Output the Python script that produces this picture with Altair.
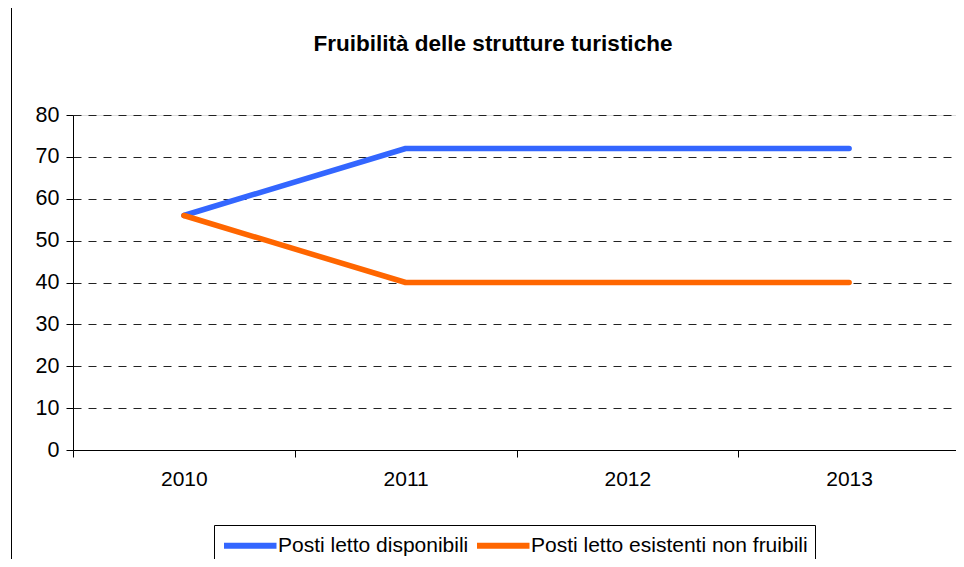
import altair as alt
import pandas as pd

anni = ["2010", "2011", "2012", "2013"]
serie = ["Posti letto disponibili", "Posti letto esistenti non fruibili"]
disponibili = [56, 72, 72, 72]
non_fruibili = [56, 40, 40, 40]
colori = ["#3366FF", "#FF6600"]
y_ticks = [0, 10, 20, 30, 40, 50, 60, 70, 80]
titolo = "Fruibilità delle strutture turistiche"

rows = []
for a, v in zip(anni, disponibili):
    rows.append({"anno": a, "serie": serie[0], "valore": v})
for a, v in zip(anni, non_fruibili):
    rows.append({"anno": a, "serie": serie[1], "valore": v})
df = pd.DataFrame(rows)

FONT = "Liberation Sans"

lines = alt.Chart(df).mark_line(strokeWidth=5.5, strokeCap="round", strokeJoin="round").encode(
    x=alt.X(
        "anno:O",
        title=None,
        bandPosition=0.5,
        scale=alt.Scale(type="band", paddingInner=0, paddingOuter=0, range=[0, 887]),
        axis=alt.Axis(
            labelAngle=0, tickBand="extent", grid=False,
            labelFontSize=21, labelFont=FONT, labelColor="#000000",
            tickSize=7, tickColor="#000000", domainColor="#000000",
            labelPadding=11,
        ),
    ),
    y=alt.Y(
        "valore:Q",
        title=None,
        scale=alt.Scale(domain=[0, 80], nice=False),
        axis=alt.Axis(
            values=y_ticks, grid=True, gridDash=[8, 7], gridColor="#222222",
            labelFontSize=21.5, labelFont=FONT, labelColor="#000000",
            tickSize=7, tickColor="#000000", domainColor="#000000",
            labelPadding=7,
        ),
    ),
    color=alt.Color(
        "serie:N",
        scale=alt.Scale(domain=serie, range=colori),
        legend=alt.Legend(
            title=None, orient="none", legendX=141, legendY=410,
            direction="horizontal", symbolType="M-1,0H4", symbolStrokeWidth=6,
            symbolSize=441, labelFontSize=21, labelFont=FONT, labelColor="#000000",
            labelOffset=30, columnPadding=-4, padding=7, strokeColor="#000000",
            labelLimit=500,
        ),
    ),
)

frame = alt.Chart(pd.DataFrame({"k": [0]})).mark_rule(color="#000000", strokeWidth=1).encode(
    x=alt.value(-61.5), y=alt.value(-200), y2=alt.value(700)
)

title_text = alt.Chart(pd.DataFrame({"t": [titolo]})).mark_text(
    fontSize=22.5, fontWeight="bold", font=FONT, color="#000000",
    align="center", baseline="alphabetic",
).encode(text="t:N", x=alt.value(420), y=alt.value(-64))

chart = alt.layer(lines, frame, title_text).properties(
    width=883,
    height=335,
    padding={"left": 65, "top": 107, "right": 0, "bottom": 109},
    autosize=alt.AutoSizeParams(type="none"),
).configure_view(stroke="#888888", strokeWidth=2).configure(background="white")

chart.save("out.html", embed_options={"renderer": "svg", "actions": False})
